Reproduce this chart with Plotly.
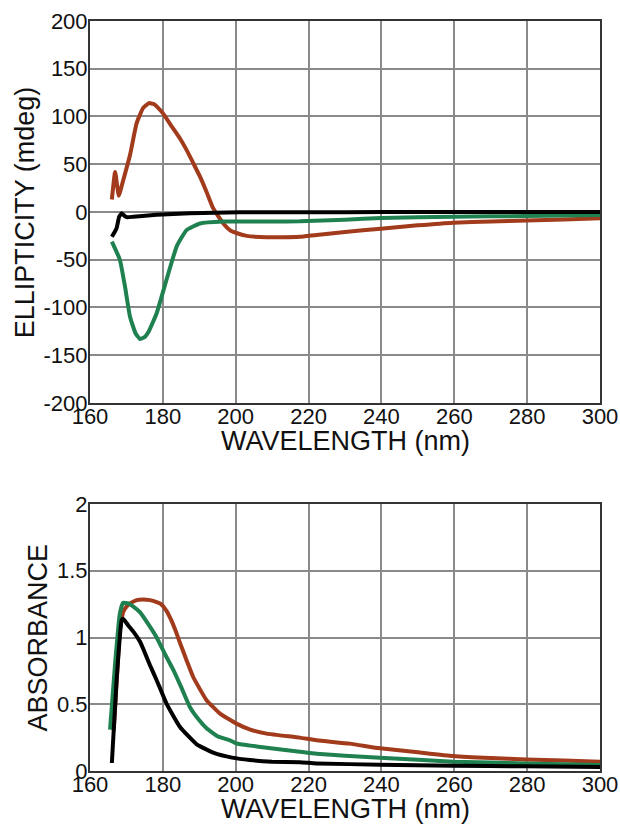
import plotly.graph_objects as go

# ---- CD spectra (ellipticity, mdeg) ----
cd_red_x = [166.0, 166.9, 167.9, 169.1, 171.0, 172.8, 174.6, 176.2, 177.5, 178.7, 180.1, 182.0, 184.7, 186.5,
            188.5, 190.2, 192.0, 193.8, 196.6, 198.4, 200.2, 203.0, 208.5, 213.0, 217.6, 222.2, 230.0, 239.8,
            250.0, 259.7, 270.0, 279.8, 290.0, 300.0]
cd_red_y = [13, 42, 17, 33, 60, 93, 109, 114, 113, 109, 103, 92, 77, 65,
            50, 37, 21, 4, -12, -19, -22, -25, -26.5, -26.5, -26, -24, -21, -17.5,
            -14, -11.2, -10, -9, -7.8, -6.6]

cd_green_x = [166.0, 168.2, 169.6, 171.0, 172.5, 173.7, 175.0, 176.0, 178.3, 181.0, 183.8, 186.5, 190.2,
              196.6, 200.7, 210.0, 217.6, 230.0, 240.0, 259.7, 279.8, 300.0]
cd_green_y = [-31, -50, -78, -110, -127, -133, -131, -126, -106, -71, -36, -19, -12,
              -10, -10, -10, -9.8, -8, -6.3, -4.9, -4.2, -3.1]

cd_black_x = [166.0, 167.3, 168.0, 168.7, 169.6, 170.2, 171.9, 178.3, 187.4, 201.0, 220.0, 240.0, 260.0, 280.0, 300.0]
cd_black_y = [-26, -17, -5, -1.4, -4.5, -5.5, -5, -3, -1.4, -0.3, -0.2, -0.1, 0, 0, 0]

# ---- Absorbance spectra ----
ab_red_x = [166.5, 167.5, 168.2, 169.1, 170.0, 171.0, 172.8, 174.5, 176.5, 178.3, 179.5, 181.0, 182.3, 183.5,
            184.7, 186.5, 188.3, 192.0, 195.7, 200.2, 204.0, 208.5, 217.6, 222.2, 231.3, 239.6, 250.0, 259.7,
            270.0, 279.8, 290.0, 300.0]
ab_red_y = [0.3, 0.75, 1.05, 1.19, 1.23, 1.255, 1.28, 1.285, 1.28, 1.265, 1.25, 1.2, 1.13, 1.05,
            0.96, 0.83, 0.706, 0.53, 0.43, 0.355, 0.31, 0.28, 0.25, 0.23, 0.205, 0.17, 0.14, 0.112,
            0.097, 0.087, 0.078, 0.07]

ab_green_x = [165.5, 166.9, 168.2, 169.1, 170.5, 172.0, 173.7, 176.0, 178.3, 180.5, 182.9, 185.0, 187.4, 190.0,
              192.0, 195.0, 198.4, 200.2, 204.0, 208.5, 213.0, 217.6, 222.2, 230.0, 239.6, 250.0, 259.7,
              279.8, 300.0]
ab_green_y = [0.31, 0.81, 1.18, 1.26, 1.255, 1.23, 1.19, 1.1, 1.0, 0.88, 0.756, 0.63, 0.48, 0.38,
              0.32, 0.26, 0.23, 0.206, 0.19, 0.175, 0.16, 0.145, 0.13, 0.115, 0.1, 0.085, 0.07,
              0.057, 0.045]

ab_black_x = [166.0, 167.3, 168.7, 169.1, 170.5, 172.0, 173.7, 175.0, 176.5, 178.3, 181.0, 184.7, 189.3,
              194.0, 199.0, 203.9, 210.0, 217.6, 222.2, 239.6, 259.7, 279.8, 300.0]
ab_black_y = [0.06, 0.68, 1.13, 1.14, 1.09, 1.04, 0.97, 0.89, 0.79, 0.68, 0.505, 0.33, 0.2,
              0.135, 0.1, 0.082, 0.07, 0.065, 0.057, 0.047, 0.04, 0.035, 0.03]

x_ticks = [160, 180, 200, 220, 240, 260, 280, 300]
x_tick_labels = ["160", "180", "200", "220", "240", "260", "280", "300"]
cd_ticks = [-200, -150, -100, -50, 0, 50, 100, 150, 200]
cd_tick_labels = ["-200", "-150", "-100", "-50", "0", "50", "100", "150", "200"]
ab_ticks = [0, 0.5, 1, 1.5, 2]
ab_tick_labels = ["0", "0.5", "1", "1.5", "2"]

x_title = "WAVELENGTH (nm)"
cd_title = "ELLIPTICITY (mdeg)"
ab_title = "ABSORBANCE"

RED = "#A23B1C"
GREEN = "#1F8050"
BLACK = "#000000"
FONT = "Liberation Sans"

fig = go.Figure()
lw = 4
def add(x, y, c, xa, ya):
    fig.add_trace(go.Scatter(x=x, y=y, mode="lines", line=dict(color=c, width=lw, shape="spline", smoothing=0.4),
                             xaxis=xa, yaxis=ya, showlegend=False, hoverinfo="skip"))

add(cd_red_x, cd_red_y, RED, "x", "y")
add(cd_green_x, cd_green_y, GREEN, "x", "y")
add(cd_black_x, cd_black_y, BLACK, "x", "y")
add(ab_red_x, ab_red_y, RED, "x2", "y2")
add(ab_green_x, ab_green_y, GREEN, "x2", "y2")
add(ab_black_x, ab_black_y, BLACK, "x2", "y2")

axis_common = dict(showline=True, mirror=True, linecolor="#333333", linewidth=2,
                   showgrid=True, gridcolor="#8a8a8a", gridwidth=1.5, zeroline=False, automargin=False,
                   ticks="", tickfont=dict(family=FONT, size=22, color="#111"))
xax = dict(range=[160, 300], tickvals=x_ticks, ticktext=x_tick_labels, domain=[0, 1], ticklabelstandoff=-7, **axis_common)
tfont = dict(family=FONT, size=27, color="#111")

fig.update_layout(
    width=620, height=826,
    margin=dict(l=90, r=20, t=21, b=55),
    paper_bgcolor="white", plot_bgcolor="white",
    xaxis=dict(anchor="y", **xax),
    yaxis=dict(domain=[0.4907, 1], range=[-200, 200], tickvals=cd_ticks, ticktext=cd_tick_labels, anchor="x",
               ticklabelstandoff=-4, **axis_common),
    xaxis2=dict(anchor="y2", **xax),
    yaxis2=dict(domain=[0, 0.356], range=[0, 2], tickvals=ab_ticks, ticktext=ab_tick_labels, anchor="x2",
                ticklabelstandoff=-4, **axis_common),
    annotations=[
        dict(text=x_title, xref="paper", yref="paper", x=0.5, y=0.44, xanchor="center", yanchor="middle",
             showarrow=False, font=tfont),
        dict(text=x_title, xref="paper", yref="paper", x=0.5, y=-0.0505, xanchor="center", yanchor="middle",
             showarrow=False, font=tfont),
        dict(text=cd_title, xref="paper", yref="paper", x=-0.1275, y=0.745, xanchor="center", yanchor="middle",
             textangle=-90, showarrow=False, font=tfont),
        dict(text=ab_title, xref="paper", yref="paper", x=-0.102, y=0.178, xanchor="center", yanchor="middle",
             textangle=-90, showarrow=False, font=tfont),
    ],
)

fig.write_html("out.html", config={"displayModeBar": False},
               post_script="document.body.style.margin='0';document.documentElement.style.overflow='hidden';")
